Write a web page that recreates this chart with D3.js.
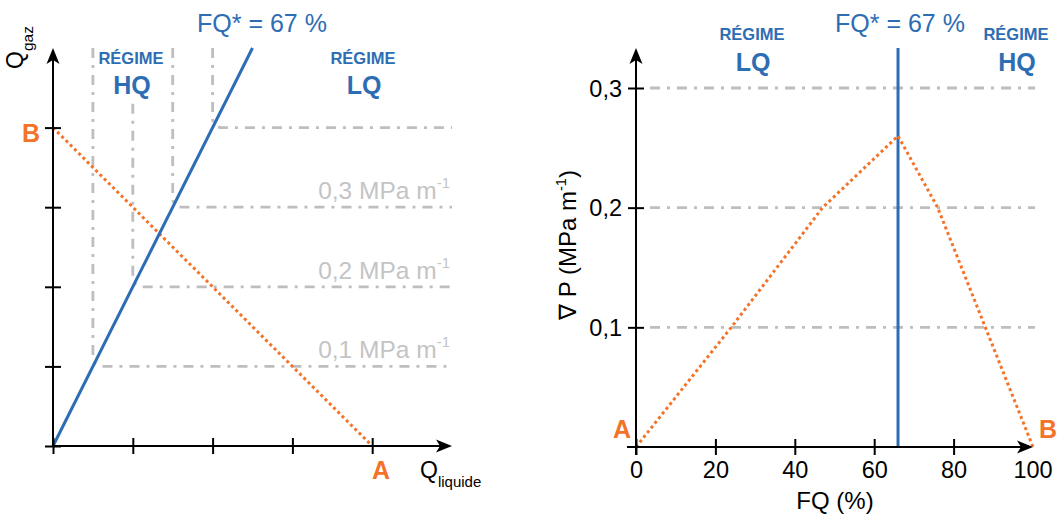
<!DOCTYPE html>
<html>
<head>
<meta charset="utf-8">
<script src="https://cdn.jsdelivr.net/npm/d3@7"></script>
<style>
  html, body { margin: 0; padding: 0; background: #fff; }
  svg { display: block; font-family: "Liberation Sans", Arial, Helvetica, sans-serif; }
</style>
</head>
<body>
<svg id="chart" width="1059" height="515"></svg>
<script>
// ---------- DATA ----------
// Left panel (Q_liquide vs Q_gaz, arbitrary units)
const leftXTicks = [0, 1, 2, 3, 4];
const leftYTicks = [0, 1, 2, 3, 4];
const isoLabels = ["0,1", "0,2", "0,3", ""];
const isoX = [0.5, 1, 1.5, 2];      // vertical branch position
const isoY = [1, 2, 3, 4];          // horizontal branch position
const isoTop = [5, 4.3, 5, 5];      // where vertical branch starts
const blueLeftX = [0, 2.5];
const blueLeftY = [0, 5];
const orangeLeftX = [0, 4];
const orangeLeftY = [4, 0];

// Right panel (FQ % vs pressure gradient)
const fqTicks = [0, 20, 40, 60, 80, 100];
const dpTicks = [0.1, 0.2, 0.3];
const dpTickLabels = ["0,1", "0,2", "0,3"];
const fqValues = [0, 24, 47, 66, 76, 88, 100];
const dpValues = [0, 0.1, 0.2, 0.26, 0.2, 0.1, 0];
const fqStar = 66;

// ---------- STYLE ----------
const ORANGE = "#F37329";
const BLUE = "#2D6DB4";
const GREY = "#BEBEBE";
const GREYTXT = "#C4C4C4";
const DASH = "10,7,3,7";

const svg = d3.select("#chart");

function arrowHead(g, x, y, dir) {
  const p = dir === "up"
    ? `M${x},${y} L${x - 6.5},${y + 16} L${x},${y + 12} L${x + 6.5},${y + 16} Z`
    : `M${x},${y} L${x - 16},${y - 6.5} L${x - 12},${y} L${x - 16},${y + 6.5} Z`;
  g.append("path").attr("d", p).attr("fill", "#000");
}

// ================= LEFT PANEL =================
const xL = d3.scaleLinear().domain([0, 5]).range([53, 452]);
const yL = d3.scaleLinear().domain([0, 5]).range([446, 48]);
const gL = svg.append("g");

// iso-pressure curves
const r = 9;
isoX.forEach((xv, i) => {
  const px = xL(xv), py = yL(isoY[i]);
  const p = d3.path();
  p.moveTo(px, yL(isoTop[i]));
  p.lineTo(px, py - r);
  p.arcTo(px, py, px + r, py, r);
  p.lineTo(xL(5), py);
  gL.append("path").attr("d", p.toString())
    .attr("fill", "none").attr("stroke", GREY).attr("stroke-width", 2.8)
    .attr("stroke-dasharray", DASH);
  if (isoLabels[i]) {
    const t = gL.append("text").attr("x", 450).attr("y", py - 8)
      .attr("text-anchor", "end").attr("font-size", 24.5).attr("fill", GREYTXT);
    t.append("tspan").text(isoLabels[i] + " MPa m");
    t.append("tspan").attr("dy", -11).attr("font-size", 15).text("-1");
  }
});

// orange dotted line B -> A
gL.append("path")
  .attr("d", d3.line().x(d => xL(d[0])).y(d => yL(d[1]))(orangeLeftX.map((v, i) => [v, orangeLeftY[i]])))
  .attr("fill", "none").attr("stroke", ORANGE).attr("stroke-width", 3)
  .attr("stroke-dasharray", "3,3");

// blue line FQ*
gL.append("path")
  .attr("d", d3.line().x(d => xL(d[0])).y(d => yL(d[1]))(blueLeftX.map((v, i) => [v, blueLeftY[i]])))
  .attr("fill", "none").attr("stroke", BLUE).attr("stroke-width", 3);

// axes
const axL = gL.append("g").attr("transform", `translate(0,${yL(0)})`)
  .call(d3.axisBottom(xL).tickValues(leftXTicks).tickSize(8).tickFormat(""));
axL.select(".domain").remove();
axL.selectAll(".tick line").attr("y1", -8).attr("y2", 8).attr("stroke-width", 2).attr("stroke", "#000");
const ayL = gL.append("g").attr("transform", `translate(${xL(0)},0)`)
  .call(d3.axisLeft(yL).tickValues(leftYTicks).tickSize(8).tickFormat(""));
ayL.select(".domain").remove();
ayL.selectAll(".tick line").attr("x1", -8).attr("x2", 8).attr("stroke-width", 2).attr("stroke", "#000");

gL.append("line").attr("x1", xL(0)).attr("x2", xL(5) - 10).attr("y1", yL(0)).attr("y2", yL(0))
  .attr("stroke", "#000").attr("stroke-width", 2);
gL.append("line").attr("x1", xL(0)).attr("x2", xL(0)).attr("y1", yL(0)).attr("y2", yL(5) + 10)
  .attr("stroke", "#000").attr("stroke-width", 2);
arrowHead(gL, xL(5), yL(0), "right");
arrowHead(gL, xL(0), yL(5), "up");

// axis titles
const qg = gL.append("text").attr("transform", `translate(23,69) rotate(-90)`).attr("font-size", 23);
qg.append("tspan").text("Q");
qg.append("tspan").attr("dy", 10).attr("font-size", 15.5).text("gaz");
const ql = gL.append("text").attr("x", 420).attr("y", 478).attr("font-size", 23);
ql.append("tspan").text("Q");
ql.append("tspan").attr("dy", 9).attr("font-size", 15).text("liquide");

// A / B
gL.append("text").attr("x", 381).attr("y", 479).attr("text-anchor", "middle")
  .attr("font-size", 25).attr("font-weight", "bold").attr("fill", ORANGE).text("A");
gL.append("text").attr("x", 31).attr("y", 142).attr("text-anchor", "middle")
  .attr("font-size", 25).attr("font-weight", "bold").attr("fill", ORANGE).text("B");

// regime labels
function regime(g, x, y1, y2, word) {
  g.append("text").attr("x", x).attr("y", y1).attr("text-anchor", "middle")
    .attr("font-size", 16.5).attr("font-weight", "bold").attr("fill", BLUE).text("RÉGIME");
  g.append("text").attr("x", x + 1).attr("y", y2).attr("text-anchor", "middle")
    .attr("font-size", 25).attr("font-weight", "bold").attr("fill", BLUE).text(word);
}
regime(gL, 131, 64, 94, "HQ");
regime(gL, 363, 64, 94, "LQ");
gL.append("text").attr("x", 262).attr("y", 32).attr("text-anchor", "middle")
  .attr("font-size", 25).attr("fill", BLUE).text("FQ* = 67 %");

// ================= RIGHT PANEL =================
const xR = d3.scaleLinear().domain([0, 100]).range([636, 1033]);
const yR = d3.scaleLinear().domain([0, 0.3]).range([447, 88]);
const gR = svg.append("g");

// grid lines
gR.selectAll(".grid").data(dpTicks).enter().append("line")
  .attr("x1", 650).attr("x2", 1035)
  .attr("y1", d => yR(d)).attr("y2", d => yR(d))
  .attr("stroke", GREY).attr("stroke-width", 2.8).attr("stroke-dasharray", DASH);

// blue vertical line
gR.append("line").attr("x1", xR(fqStar)).attr("x2", xR(fqStar))
  .attr("y1", 48).attr("y2", yR(0))
  .attr("stroke", BLUE).attr("stroke-width", 3);

// orange dotted curve
gR.append("path")
  .attr("d", d3.line().x((d, i) => xR(fqValues[i])).y((d, i) => yR(dpValues[i]))(fqValues))
  .attr("fill", "none").attr("stroke", ORANGE).attr("stroke-width", 3)
  .attr("stroke-dasharray", "3,3");

// axes
const axR = gR.append("g").attr("transform", `translate(0,${yR(0)})`)
  .call(d3.axisBottom(xR).tickValues(fqTicks.slice(0, 5)).tickSize(8).tickFormat(d => d));
axR.select(".domain").remove();
axR.selectAll(".tick line").attr("y1", -8).attr("y2", 8).attr("stroke-width", 2).attr("stroke", "#000");
axR.selectAll(".tick text").attr("y", 31).attr("dy", 0).attr("font-size", 23.5)
  .attr("font-family", "Liberation Sans, Arial, sans-serif").attr("fill", "#000");
gR.append("text").attr("x", xR(100)).attr("y", yR(0) + 31).attr("text-anchor", "middle")
  .attr("font-size", 23.5).text(fqTicks[5]);

const ayR = gR.append("g").attr("transform", `translate(${xR(0)},0)`)
  .call(d3.axisLeft(yR).tickValues(dpTicks).tickSize(8).tickFormat((d, i) => dpTickLabels[i]));
ayR.select(".domain").remove();
ayR.selectAll(".tick line").attr("x1", -8).attr("x2", 8).attr("stroke-width", 2).attr("stroke", "#000");
ayR.selectAll(".tick text").attr("x", -14).attr("dy", "0.35em").attr("font-size", 23.5)
  .attr("font-family", "Liberation Sans, Arial, sans-serif").attr("fill", "#000");

gR.append("line").attr("x1", xR(0) - 9).attr("x2", xR(100) - 10).attr("y1", yR(0)).attr("y2", yR(0))
  .attr("stroke", "#000").attr("stroke-width", 2);
gR.append("line").attr("x1", xR(0)).attr("x2", xR(0)).attr("y1", yR(0) + 8).attr("y2", 58)
  .attr("stroke", "#000").attr("stroke-width", 2);
arrowHead(gR, xR(100), yR(0), "right");
arrowHead(gR, xR(0), 48, "up");

// axis titles
gR.append("text").attr("x", 835).attr("y", 509).attr("text-anchor", "middle")
  .attr("font-size", 24).text("FQ (%)");
const yt = gR.append("text").attr("transform", "translate(576,245) rotate(-90)")
  .attr("text-anchor", "middle").attr("font-size", 24);
yt.append("tspan").text("∇ P (MPa m");
yt.append("tspan").attr("dy", -10).attr("font-size", 14.5).text("-1");
yt.append("tspan").attr("dy", 10).text(")");

// A / B
gR.append("text").attr("x", 622).attr("y", 438).attr("text-anchor", "middle")
  .attr("font-size", 25).attr("font-weight", "bold").attr("fill", ORANGE).text("A");
gR.append("text").attr("x", 1057).attr("y", 438).attr("text-anchor", "end")
  .attr("font-size", 25).attr("font-weight", "bold").attr("fill", ORANGE).text("B");

// regime labels
regime(gR, 752, 40, 71, "LQ");
regime(gR, 1016, 40, 71, "HQ");
gR.append("text").attr("x", 900).attr("y", 32).attr("text-anchor", "middle")
  .attr("font-size", 25).attr("fill", BLUE).text("FQ* = 67 %");
</script>
</body>
</html>
